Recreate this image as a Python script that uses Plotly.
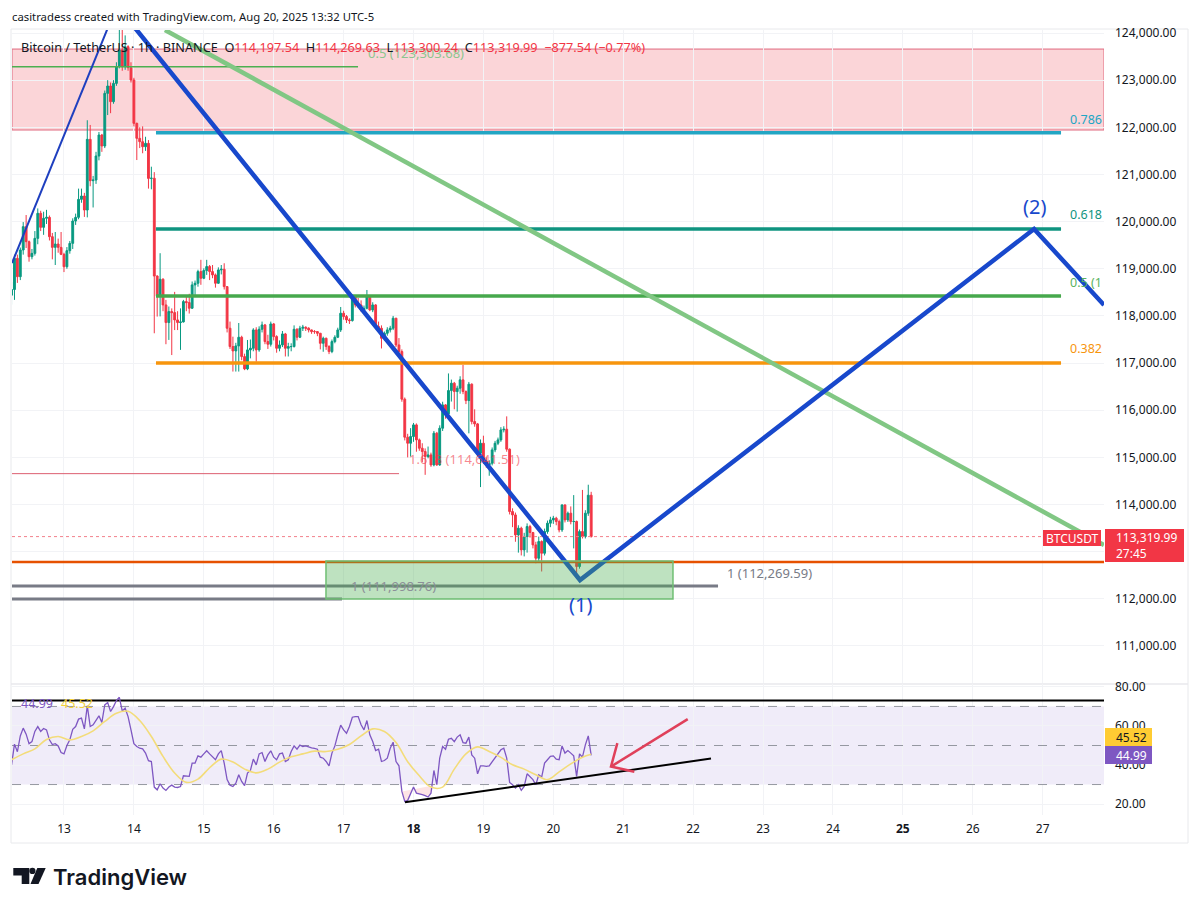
import pandas as pd
import plotly.graph_objects as go
from plotly.subplots import make_subplots

dates = pd.date_range('2025-08-12 06:00', periods=200, freq='h')

first_open = 118440
closes = [118560, 119221, 118832, 119398, 119893, 119575, 119256, 119327, 119645, 120176,
          119879, 120070, 120091, 119681, 119454, 119525, 119454, 119306, 119044, 119384,
          119539, 120013, 120091, 120472, 120543, 120246, 121745, 120868, 120882, 121392,
          121837, 121604, 122720, 122876, 122544, 122932, 123286, 123640, 123286, 123710,
          123265, 123003, 122084, 121766, 121695, 121589, 121660, 120917, 120920, 118846,
          118424, 118778, 118233, 117859, 118092, 118071, 117915, 117859, 117873, 118304,
          118283, 118163, 118658, 118693, 118940, 118799, 118962, 119047, 118940, 118870,
          118693, 118976, 118990, 118622, 117739, 117350, 117258, 117364, 117548, 117138,
          116876, 117279, 117314, 117703, 117279, 117717, 117809, 117456, 117399, 117830,
          117562, 117314, 117385, 117618, 117314, 117350, 117350, 117717, 117548, 117739,
          117760, 117739, 117703, 117668, 117668, 117632, 117420, 117526, 117350, 117244,
          117456, 117548, 117703, 118057, 117986, 117915, 117901, 118410, 118233, 118233,
          118127, 118163, 118410, 118127, 118233, 117774, 117739, 117526, 117632, 117703,
          117739, 117951, 117385, 117244, 116234, 115428, 115300, 115442, 115689, 115371,
          115194, 115124, 115018, 115053, 114841, 115513, 114841, 115619, 116113, 115923,
          116417, 116573, 116396, 116467, 116644, 116396, 116205, 116552, 115760, 115710,
          115088, 115300, 114912, 114841, 114876, 115159, 115300, 115371, 115583, 115597,
          115173, 113851, 113780, 113356, 113498, 113038, 113321, 113533, 113406, 113144,
          112861, 113215, 112967, 113427, 113604, 113674, 113710, 113639, 113462, 113992,
          113674, 113816, 113639, 113640, 112685, 113427, 113321, 113816, 114197.54, 113319.99]
highs = [118720, 119300, 119300, 119450, 119990, 120140, 119600, 119420, 119800, 120280,
         120230, 120210, 120250, 120130, 119760, 119780, 119640, 119780, 119340, 119460,
         119590, 120070, 120170, 120700, 120700, 120610, 122150, 122050, 120970, 121480,
         121900, 121860, 122780, 123000, 122950, 123000, 123380, 124474, 124100, 123950,
         123740, 123380, 123050, 122100, 122000, 122020, 121800, 121730, 121165, 121050,
         118860, 119330, 118800, 118340, 118200, 118160, 118510, 118100, 118160, 118340,
         118440, 118470, 118730, 118750, 118980, 119190, 119010, 119190, 119080, 119080,
         118900, 119030, 119080, 119117, 118630, 117880, 117560, 117430, 117850, 117580,
         117200, 117490, 117500, 117740, 117760, 117780, 117880, 117830, 117600, 117880,
         117850, 117590, 117480, 117680, 117640, 117430, 117420, 117800, 117740, 117790,
         117810, 117780, 117760, 117710, 117700, 117680, 117640, 117560, 117540, 117380,
         117500, 117590, 117750, 118190, 118110, 118020, 117950, 118450, 118440, 118380,
         118330, 118220, 118550, 118430, 118290, 118250, 117880, 117800, 117670, 117760,
         117790, 118000, 117960, 117530, 117290, 116270, 115500, 115620, 115730, 115720,
         115400, 115300, 115190, 115230, 115100, 115560, 115540, 115680, 116180, 116130,
         116780, 116650, 116600, 116520, 116720, 116960, 116420, 116600, 116570, 116020,
         115730, 115380, 115460, 115000, 114940, 115210, 115350, 115420, 115640, 115660,
         115870, 115190, 113920, 113830, 113560, 113530, 113400, 113600, 113570, 113420,
         113210, 113320, 113240, 113490, 113660, 113740, 113760, 113740, 113680, 114000,
         114000, 113850, 113960, 114200, 113660, 113470, 114310, 113880, 114420, 114269.63]
lows = [118240, 118340, 118700, 118760, 119300, 119440, 119150, 119200, 119280, 119520,
        119800, 119720, 119950, 119600, 119200, 119080, 119340, 119290, 118930, 119000,
        119320, 119420, 119930, 120050, 120400, 120100, 120090, 120750, 120300, 120800,
        121300, 121480, 121560, 122260, 122300, 122500, 122880, 123250, 123200, 123220,
        123200, 122950, 122020, 121306, 121560, 121450, 121500, 120700, 120685, 117632,
        117986, 117990, 118100, 117400, 117491, 117170, 117700, 117700, 117280, 117860,
        118100, 118050, 118150, 118400, 118620, 118660, 118780, 118870, 118760, 118800,
        118600, 118680, 118880, 118560, 117650, 117300, 116820, 116820, 116820, 117060,
        116850, 116850, 117100, 117250, 117030, 117240, 117650, 117400, 117300, 117350,
        117480, 117220, 117250, 117340, 117140, 117140, 117250, 117330, 117480, 117530,
        117680, 117680, 117650, 117620, 117620, 117570, 117290, 117240, 117280, 117190,
        117210, 117420, 117530, 117660, 117920, 117850, 117830, 117880, 118180, 118170,
        118090, 118090, 118140, 118100, 118080, 117720, 117650, 117310, 117480, 117580,
        117650, 117700, 117340, 117180, 116180, 115360, 115000, 115020, 115330, 115120,
        115140, 114900, 114630, 114980, 114800, 114810, 114820, 114820, 115560, 115820,
        115990, 116184, 116020, 115970, 116350, 116340, 116130, 115510, 115700, 115650,
        115020, 114370, 114860, 114780, 114610, 114830, 115110, 115260, 115330, 115530,
        115120, 113790, 113520, 113210, 112980, 112920, 112900, 112980, 113300, 113070,
        112755, 112800, 112580, 112920, 113380, 113520, 113590, 113560, 113410, 113420,
        113620, 113630, 113580, 113070, 112540, 112640, 113280, 113280, 113760, 113300.24]

rsi = [40.1, 50.7, 46.8, 54.9, 58.9, 55.8, 50.9, 52.0, 57.2, 59.7,
       57.2, 58.7, 58.0, 52.9, 50.5, 50.9, 49.8, 46.4, 45.7, 50.0,
       52.9, 58.3, 59.7, 63.5, 64.0, 58.5, 70.3, 59.7, 60.6, 63.1,
       65.2, 61.8, 70.8, 72.0, 67.4, 69.9, 73.0, 74.7, 67.7, 69.1,
       64.8, 58.0, 50.9, 49.5, 48.6, 48.3, 46.1, 42.2, 41.8, 28.7,
       27.3, 30.4, 28.2, 27.0, 28.7, 29.7, 28.7, 28.5, 29.0, 34.5,
       34.5, 34.2, 41.0, 41.0, 44.7, 44.0, 45.7, 47.3, 45.7, 44.0,
       42.7, 45.7, 47.4, 41.0, 32.5, 29.7, 29.0, 30.7, 35.0, 31.6,
       29.4, 35.9, 37.2, 43.0, 40.1, 45.7, 46.4, 41.8, 45.2, 47.3,
       44.0, 42.7, 45.7, 46.1, 41.8, 42.7, 46.9, 49.8, 48.1, 50.2,
       49.5, 49.8, 49.1, 48.8, 48.5, 48.1, 44.0, 43.5, 41.8, 39.6,
       46.1, 49.8, 55.5, 60.4, 58.0, 56.3, 59.7, 64.5, 64.8, 64.8,
       60.6, 58.0, 62.8, 55.5, 52.0, 47.4, 48.1, 41.8, 42.3, 43.5,
       48.6, 51.7, 41.8, 39.6, 26.5, 21.4, 21.9, 25.6, 28.7, 25.6,
       25.3, 24.8, 24.3, 23.6, 25.6, 37.2, 29.9, 43.5, 49.5, 48.1,
       53.2, 53.7, 52.0, 54.3, 55.5, 51.5, 51.2, 54.3, 45.2, 43.5,
       35.5, 39.6, 39.6, 39.3, 39.6, 41.8, 43.5, 46.1, 47.8, 48.6,
       43.5, 31.1, 29.9, 28.2, 29.9, 27.0, 29.0, 35.5, 33.8, 32.5,
       29.9, 35.0, 33.8, 41.0, 42.7, 44.4, 44.7, 43.0, 42.7, 49.8,
       46.1, 47.4, 46.1, 44.7, 34.2, 45.7, 44.0, 50.3, 54.9, 44.99]
# RSI average read every four hours
rsi_ma_hours = list(range(0, 200, 4)) + [199]
rsi_ma = [42.7, 45.7, 48.3, 53.1, 54.6, 52.9, 54.6, 57.5, 62.3, 66.5,
          67.5, 62.8, 54.6, 44.4, 35.9, 31.1, 32.8, 38.6, 43.0, 41.5,
          37.9, 36.0, 37.9, 41.5, 44.2, 45.7, 47.1, 46.9, 48.1, 50.5,
          54.9, 58.5, 57.2, 51.5, 41.7, 34.5, 28.7, 28.7, 37.9, 45.7,
          49.3, 46.9, 43.9, 40.1, 37.9, 35.0, 32.5, 36.5, 40.6, 44.0, 45.52]

x_start = '2025-08-12 06:09'
x_end = '2025-08-27 21:04'
fib_start = '2025-08-14 07:35'
fib_end = '2025-08-27 06:19'

wave_thin_x = [x_start, '2025-08-13 18:11']
wave_thin_y = [119122, 124583]
wave_x = ['2025-08-13 18:11', '2025-08-20 09:10', '2025-08-26 21:03', x_end]
wave_y = [124583, 112399, 119843, 118231]
channel_x = ['2025-08-14 10:40', x_end]
channel_y = [124064, 113141]

red_zone = [121943, 123660]
green_box_x = ['2025-08-16 17:57', '2025-08-21 17:05']
green_box_y = [111995, 112800]

trend_x = ['2025-08-17 21:04', '2025-08-22 06:08']
trend_y = [20.9, 43.3]
arrow_x = ['2025-08-21 22:09', '2025-08-20 19:48', None,
           '2025-08-20 21:59', '2025-08-20 19:48', '2025-08-21 03:49']
arrow_y = [63.5, 39.2, None, 51.2, 39.2, 36.6]

# price, start, end, colour, width, dash
price_lines = [
    (123285, x_start, '2025-08-17 04:57', '#4CAF50', 1.5, 'solid'),
    (121885, fib_start, fib_end, '#22A6C4', 3.5, 'solid'),
    (119843, fib_start, fib_end, '#0F9480', 3.5, 'solid'),
    (118422, fib_start, fib_end, '#46A84C', 3.5, 'solid'),
    (117001, fib_start, fib_end, '#F7950D', 3.5, 'solid'),
    (114655, x_start, '2025-08-17 19:02', '#DC5F70', 1, 'solid'),
    (112780, x_start, x_end, '#E65100', 2.5, 'solid'),
    (112269.59, x_start, '2025-08-22 08:33', '#787B86', 3, 'solid'),
    (111998.76, x_start, '2025-08-16 23:27', '#787B86', 3, 'solid'),
    (113319.99, x_start, x_end, '#F2808C', 1, 'dot'),
]

# text, time, price, colour, size
price_labels = [
    ('0.5 (123,303.68)', '2025-08-17 08:02', 123580, '#8CC58E', 13),
    ('0.786', '2025-08-27 09:04', 122156, '#22A6C4', 12.5),
    ('0.618', '2025-08-27 09:04', 120142, '#0F9480', 12.5),
    ('0.5 (1', '2025-08-27 09:04', 118700, '#5BB35F', 12.5),
    ('0.382', '2025-08-27 09:04', 117300, '#F7950D', 12.5),
    ('1.618 (114,641.51)', '2025-08-17 22:06', 114968, 'rgba(242,54,69,0.6)', 13),
    ('1 (111,998.76)', '2025-08-17 02:10', 112276, '#8C8F98', 13),
    ('1 (112,269.59)', '2025-08-22 11:18', 112552, '#787B86', 13),
]

day_ticks = pd.date_range('2025-08-13', '2025-08-27', freq='D')
day_labels = ['<b>%d</b>' % d.day if d.day in (18, 25) else str(d.day) for d in day_ticks]
price_ticks = list(range(111000, 125000, 1000))
rsi_ticks = [20, 40, 60, 80]

FONT = 'Noto Sans'
TEXT = '#131722'
GRID = '#F2F3F6'
RED = '#F23645'
GREEN = '#089981'
# the page body keeps its 8px margin, so the figure is laid out 8px in
FIG_W = 1184
FIG_H = 893


def fx(x):
    return (x - 8) / FIG_W


def fy(y):
    return 1 - (y - 8) / FIG_H


fig = make_subplots(rows=2, cols=1, shared_xaxes=True)

fig.add_trace(go.Candlestick(
    x=dates, open=[first_open] + closes[:-1], high=highs, low=lows, close=closes,
    increasing=dict(line=dict(color=GREEN, width=1), fillcolor=GREEN),
    decreasing=dict(line=dict(color=RED, width=1), fillcolor=RED),
    whiskerwidth=0), row=1, col=1)

for level, start, end, color, width, dash in price_lines:
    fig.add_trace(go.Scatter(x=[start, end], y=[level, level], mode='lines',
                             line=dict(color=color, width=width, dash=dash)), row=1, col=1)

fig.add_trace(go.Scatter(x=channel_x, y=channel_y, mode='lines',
                         line=dict(color='#81C784', width=4.5)), row=1, col=1)
fig.add_trace(go.Scatter(x=wave_thin_x, y=wave_thin_y, mode='lines',
                         line=dict(color='#1E3FBF', width=2)), row=1, col=1)
fig.add_trace(go.Scatter(x=wave_x, y=wave_y, mode='lines',
                         line=dict(color='#1848CC', width=4.5)), row=1, col=1)

# rsi pane
for level in [70, 50, 30]:
    fig.add_trace(go.Scatter(x=[x_start, x_end], y=[level, level], mode='lines',
                             line=dict(color='#9598A1', width=1, dash='dash')), row=2, col=1)
fig.add_trace(go.Scatter(x=[x_start, x_end], y=[73, 73], mode='lines',
                         line=dict(color='#000000', width=2)), row=2, col=1)
# pink patch where the RSI dips under 30 on the 17th/18th
fig.add_trace(go.Scatter(x=dates[134:147], y=[min(v, 30) for v in rsi[134:147]], mode='lines', fill='toself',
                         fillcolor='rgba(242,54,69,0.14)', line=dict(width=0)), row=2, col=1)
fig.add_trace(go.Scatter(x=dates, y=rsi, mode='lines',
                         line=dict(color='#7E57C2', width=1.3)), row=2, col=1)
fig.add_trace(go.Scatter(x=dates[rsi_ma_hours], y=rsi_ma, mode='lines',
                         line=dict(color='#F3DC7A', width=1.6, shape='spline')), row=2, col=1)
fig.add_trace(go.Scatter(x=trend_x, y=trend_y, mode='lines',
                         line=dict(color='#000000', width=2)), row=2, col=1)
fig.add_trace(go.Scatter(x=arrow_x, y=arrow_y, mode='lines',
                         line=dict(color='#E0405A', width=2.5)), row=2, col=1)

fig.add_shape(type='rect', xref='x', yref='y', x0=x_start, x1=x_end,
              y0=red_zone[0], y1=red_zone[1], layer='below',
              fillcolor='#FBD5D8', line=dict(color='#E0697E', width=1))
fig.add_shape(type='rect', xref='x', yref='y', x0=green_box_x[0], x1=green_box_x[1],
              y0=green_box_y[0], y1=green_box_y[1], layer='above',
              fillcolor='rgba(76,175,80,0.36)', line=dict(color='#6FBF73', width=1.5))
fig.add_shape(type='rect', xref='x2', yref='y2', x0=x_start, x1=x_end, y0=30, y1=70,
              layer='below', fillcolor='#F0ECF9', line=dict(width=0))

# frame and pane separator
fig.add_shape(type='rect', xref='paper', yref='paper', x0=fx(11), x1=fx(1188), y0=fy(843), y1=fy(29),
              layer='below', line=dict(color='#E8E9EC', width=1))
fig.add_shape(type='line', xref='paper', yref='paper', x0=fx(11), x1=fx(1188), y0=fy(684), y1=fy(684),
              layer='below', line=dict(color='#E8E9EC', width=1.5))

# value tags
tags = [(1105, 1184, 529, 562, RED), (1043, 1101, 530, 546, RED),
        (1105, 1152, 728, 746, '#FFCC33'), (1105, 1152, 746, 764, '#7E57C2')]
for x0, x1, y0, y1, color in tags:
    fig.add_shape(type='rect', xref='paper', yref='paper', x0=fx(x0), x1=fx(x1), y0=fy(y1), y1=fy(y0),
                  layer='above', fillcolor=color, line=dict(width=0))

# logo mark
fig.add_shape(type='path', xref='paper', yref='paper', layer='above', fillcolor=TEXT, line=dict(width=0),
              path='M%f %f L%f %f L%f %f L%f %f L%f %f L%f %f Z' % (
                  fx(13.3), fy(868), fx(29.3), fy(868), fx(29.3), fy(884),
                  fx(21.7), fy(884), fx(21.7), fy(875.5), fx(13.3), fy(875.5)))
fig.add_shape(type='circle', xref='paper', yref='paper', layer='above', fillcolor=TEXT, line=dict(width=0),
              x0=fx(29.3), x1=fx(35.5), y0=fy(874), y1=fy(867.8))
fig.add_shape(type='path', xref='paper', yref='paper', layer='above', fillcolor=TEXT, line=dict(width=0),
              path='M%f %f L%f %f L%f %f L%f %f Z' % (
                  fx(37.3), fy(868), fx(45.7), fy(868), fx(38.5), fy(884), fx(30.5), fy(884)))


def paper_text(text, x, y, size=12, color=TEXT, anchor='left', weight=None, font=FONT):
    fig.add_annotation(xref='paper', yref='paper', x=fx(x), y=fy(y), text=text, showarrow=False,
                       xanchor=anchor, yanchor='middle', borderpad=0,
                       font=dict(family=font, size=size, color=color, weight=weight))


for text, when, price, color, size in price_labels:
    fig.add_annotation(x=when, y=price, xref='x', yref='y', text=text, showarrow=False, xanchor='left',
                       yanchor='middle', borderpad=0, font=dict(family=FONT, size=size, color=color))
fig.add_annotation(x='2025-08-20 09:30', y=111874, xref='x', yref='y', text='(1)', showarrow=False,
                   font=dict(family=FONT, size=20, color='#1848CC'))
fig.add_annotation(x='2025-08-26 21:03', y=120311, xref='x', yref='y', text='(2)', showarrow=False,
                   font=dict(family=FONT, size=20, color='#1848CC'))

paper_text('casitradess created with TradingView.com, Aug 20, 2025 13:32 UTC-5', 11, 17, 11.3)
s = '<span style="color:%s">%%s</span>' % RED
paper_text('Bitcoin / TetherUS \u00b7 1h \u00b7 BINANCE\u00a0\u00a0O' + s % '114,197.54' + '\u00a0\u00a0H' + s % '114,269.63'
           + '\u00a0\u00a0L' + s % '113,300.24' + '\u00a0\u00a0C' + s % '113,319.99'
           + '\u00a0\u00a0' + s % '\u2212877.54 (\u22120.77%)', 20, 47, 12.7)
paper_text('44.99', 20, 703, 12.5, '#7E57C2')
paper_text('45.52', 60, 703, 12.5, '#F3D23C')
paper_text('BTCUSDT', 1072, 538, 12, '#FFFFFF', 'center')
paper_text('113,319.99', 1115, 537, 12, '#FFFFFF')
paper_text('27:45', 1115, 553, 12, '#FFFFFF')
paper_text('45.52', 1115, 737, 12, TEXT)
paper_text('44.99', 1115, 755, 12, '#FFFFFF')
paper_text('TradingView', 52, 877, 22, TEXT, weight=600, font='Inter')

x_common = dict(type='date', range=[x_start, x_end], tickvals=day_ticks, ticktext=day_labels,
                showgrid=True, gridcolor=GRID, gridwidth=1, zeroline=False, ticks='',
                showline=False, rangeslider=dict(visible=False))
y_common = dict(side='right', showgrid=True, gridcolor=GRID, gridwidth=1, zeroline=False, ticks='',
                showline=False, ticklabelstandoff=10)
fig.update_layout(
    width=FIG_W, height=FIG_H, autosize=False, showlegend=False,
    paper_bgcolor='white', plot_bgcolor='white',
    margin=dict(l=0, r=0, t=0, b=0, autoexpand=False),
    font=dict(family=FONT, size=12, color=TEXT),
    boxgap=0.1,
    xaxis=dict(x_common, domain=[fx(12), fx(1104)], showticklabels=False),
    xaxis2=dict(x_common, domain=[fx(12), fx(1104)], showticklabels=True, tickfont=dict(size=12),
                ticklabelstandoff=5),
    yaxis=dict(y_common, domain=[fy(683), fy(30)], range=[110215, 124064],
               tickvals=price_ticks, tickformat=',.2f'),
    yaxis2=dict(y_common, domain=[fy(815), fy(684)], range=[14.4, 81.5],
                tickvals=rsi_ticks, tickformat='.2f'),
)

fig.write_html("out.html")
